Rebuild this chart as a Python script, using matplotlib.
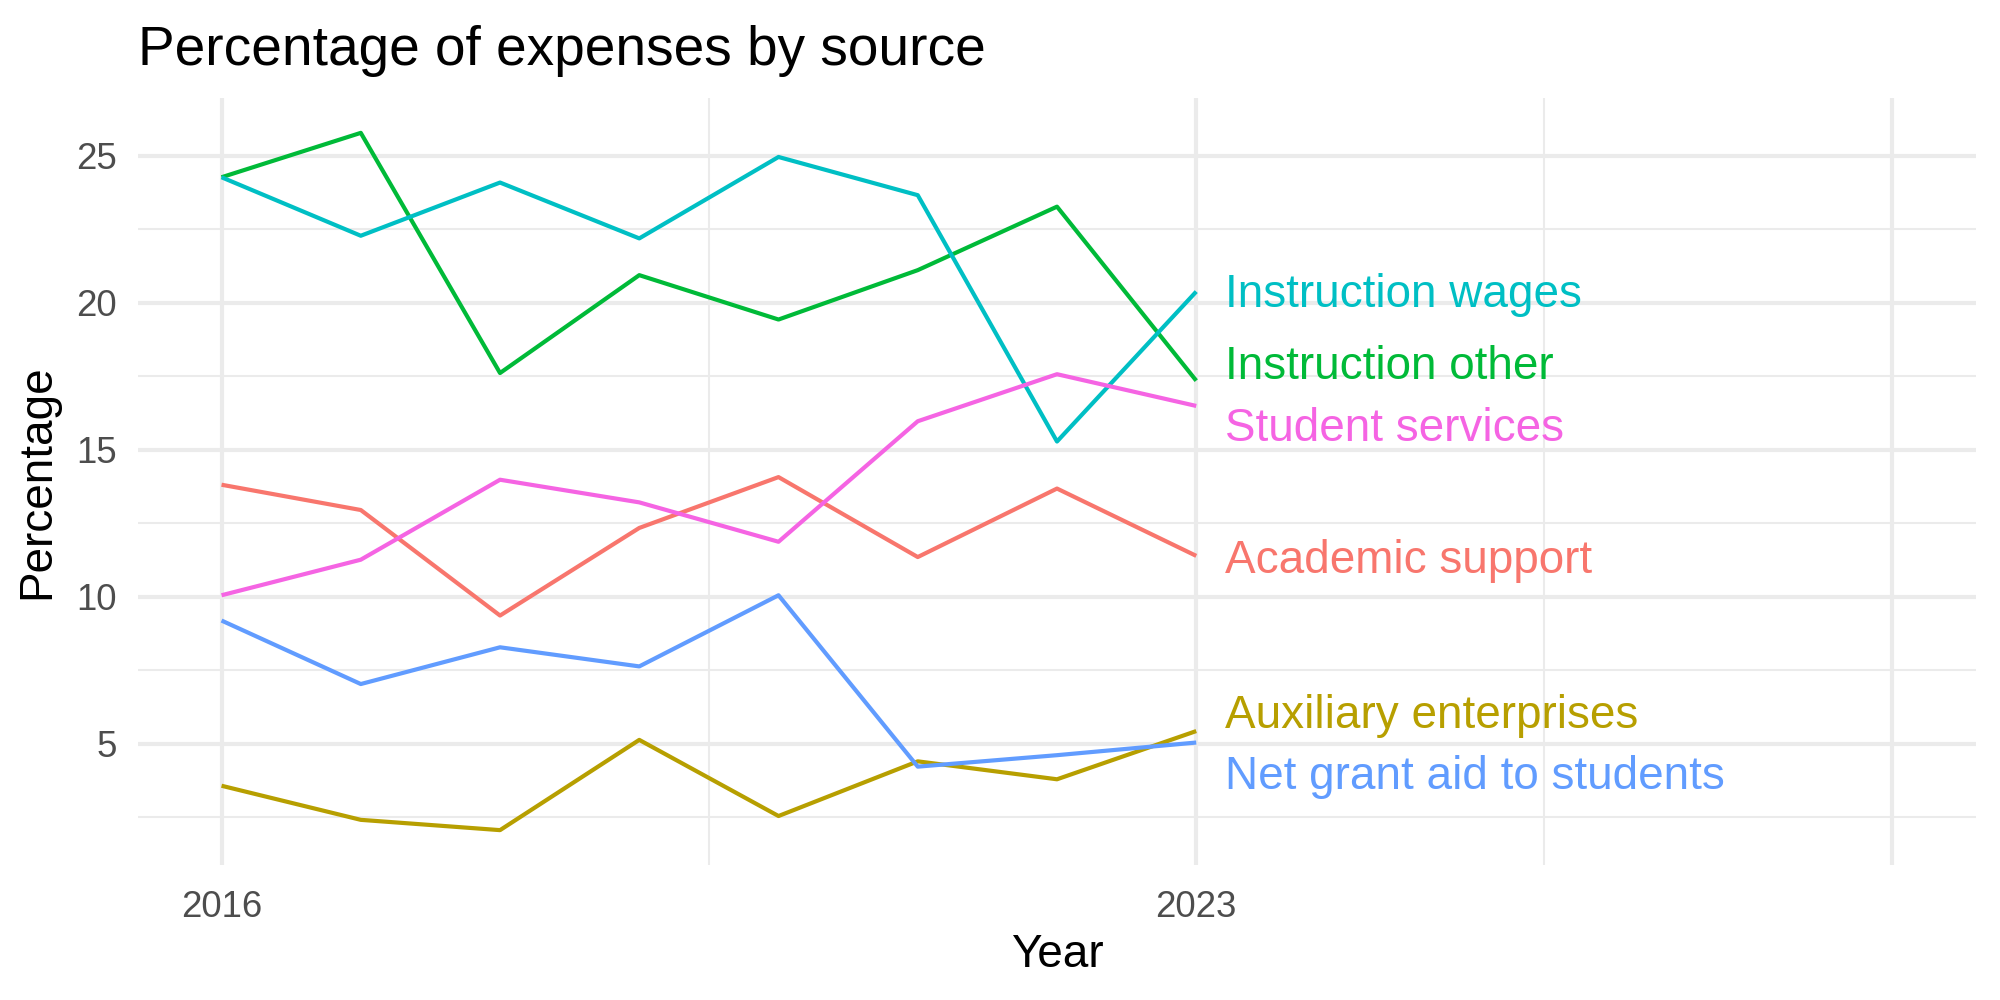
import matplotlib.pyplot as plt
from matplotlib.ticker import FixedLocator

plt.rcParams["font.family"] = ["Liberation Sans", "DejaVu Sans"]

years = [2016, 2017, 2018, 2019, 2020, 2021, 2022, 2023]

# series values (percent)
academic_support = [13.81, 12.95, 9.36, 12.34, 14.07, 11.35, 13.68, 11.39]
auxiliary_enterprises = [3.57, 2.41, 2.06, 5.13, 2.54, 4.40, 3.79, 5.43]
instruction_other = [24.27, 25.78, 17.61, 20.94, 19.43, 21.11, 23.27, 17.35]
instruction_wages = [24.27, 22.28, 24.09, 22.19, 24.96, 23.66, 15.28, 20.38]
net_grant_aid = [9.19, 7.03, 8.28, 7.63, 10.05, 4.22, 4.61, 5.04]
student_services = [10.05, 11.26, 13.98, 13.21, 11.87, 15.97, 17.57, 16.49]

sources = ["Academic support", "Auxiliary enterprises", "Instruction other",
           "Instruction wages", "Net grant aid to students", "Student services"]
values = [academic_support, auxiliary_enterprises, instruction_other,
          instruction_wages, net_grant_aid, student_services]
colors = ["#F8766D", "#B79F00", "#00BA38", "#00BFC4", "#619CFF", "#F564E3"]

# repelled label heights at the last year
label_y = [11.2, 5.95, 17.8, 20.25, 3.87, 15.7]

x_breaks = [2016, 2023, 2028]
x_labels = ["2016", "2023", ""]
x_minor = [2019.5, 2025.5]

fig = plt.figure(figsize=(2000 / 300, 1000 / 300), dpi=300)
ax = fig.add_axes([0.069, 0.135, 0.919, 0.767])

for name, vals, col, ly in zip(sources, values, colors, label_y):
    ax.plot(years, vals, color=col, linewidth=1.0, solid_capstyle="butt", zorder=3)
    ax.text(years[-1] + 0.21, ly, name, color=col, fontsize=11,
            va="center", ha="left", zorder=4)

ax.set_xlim(2016 - 0.6, 2028 + 0.6)
ax.margins(y=0.05)
ax.xaxis.set_major_locator(FixedLocator(x_breaks))
ax.set_xticklabels(x_labels)
ax.xaxis.set_minor_locator(FixedLocator(x_minor))
ax.yaxis.set_major_locator(FixedLocator([5, 10, 15, 20, 25]))
ax.yaxis.set_minor_locator(FixedLocator([2.5, 7.5, 12.5, 17.5, 22.5]))

ax.grid(which="major", color="#EBEBEB", linewidth=1.0, zorder=0)
ax.grid(which="minor", color="#EBEBEB", linewidth=0.5, zorder=0)
for s in ax.spines.values():
    s.set_visible(False)
ax.tick_params(which="both", length=0)
ax.tick_params(axis="y", labelsize=8.8, labelcolor="#4D4D4D", pad=5)
ax.tick_params(axis="x", labelsize=8.8, labelcolor="#4D4D4D", pad=6)

ax.set_xlabel("Year", fontsize=11, labelpad=2)
ax.set_ylabel("Percentage", fontsize=11, labelpad=4)
ax.set_title("Percentage of expenses by source", fontsize=13.2, loc="left",
             pad=8)

fig.savefig("out.png", dpi=300)
